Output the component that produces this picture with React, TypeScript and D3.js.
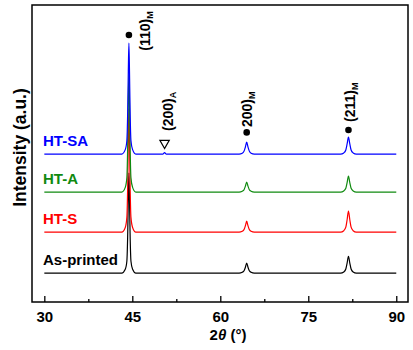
import React, { useEffect, useRef } from "react";
import * as d3 from "d3";

// shared 2θ grid (deg) for all patterns
const twoTheta = [30, 43.2, 43.8, 44.07, 44.22, 44.32, 44.42, 44.52, 44.62, 44.77, 45.05, 45.6, 50.2, 50.5, 50.8, 63.2, 63.75, 64.05, 64.28, 64.5, 64.72, 64.95, 65.25, 65.8, 80.5, 81.05, 81.4, 81.62, 81.85, 82.08, 82.3, 82.65, 83.2, 90];

// intensities above each baseline (a.u.)
const asPrinted = [0, 0, 13, 40, 135, 252, 337, 252, 135, 40, 13, 0, 0, 0, 0, 0, 3, 8, 20, 34, 20, 8, 3, 0, 0, 4, 14, 34, 57, 34, 14, 4, 0, 0];
const htS = [0, 0, 16, 50, 166, 310, 415, 310, 166, 50, 16, 0, 0, 0, 0, 0, 3, 9, 22, 37, 22, 9, 3, 0, 0, 5, 17, 42, 71, 42, 17, 5, 0, 0];
const htA = [0, 0, 16, 48, 162, 302, 404, 302, 162, 48, 16, 0, 0, 0, 0, 0, 3, 8, 20, 34, 20, 8, 3, 0, 0, 4, 13, 32, 54, 32, 13, 4, 0, 0];
const htSA = [0, 0, 15, 45, 150, 280, 374, 280, 150, 45, 15, 0, 0, 5, 0, 0, 3, 10, 24, 40, 24, 10, 3, 0, 0, 4, 14, 34, 57, 34, 14, 4, 0, 0];

const sampleNames = ["As-printed", "HT-S", "HT-A", "HT-SA"];
const sampleSeries = [asPrinted, htS, htA, htSA];
const sampleOffsets = [97, 235, 370, 498];
const sampleColors = ["#000000", "#ff0000", "#108a10", "#0000ff"];

// peak annotations
const peakHkl = ["(110)", "(200)", "200)", "(211)"];
const peakPhase = ["M", "A", "M", "M"];
const peakAngle = [44.42, 50.5, 64.5, 81.85];
const peakMarker = ["dot", "nabla", "dot", "dot"];
const markerLevel = [899, 535, 571, 579];
const textLevel = [846, 576, 589, 606];

const xTicks = [30, 45, 60, 75, 90];
const xMinorTicks = [37.5, 52.5, 67.5, 82.5];

const App: React.FC = () => {
	const ref = useRef<SVGSVGElement>(null);

	useEffect(() => {
		const W = 413;
		const H = 350;
		const left = 32, right = 408, top = 5, bottom = 302;
		const font = "'Liberation Sans', Arial, sans-serif";

		const svg = d3.select(ref.current);
		svg.selectAll("*").remove();
		svg.attr("width", W).attr("height", H);

		const x = d3.scaleLinear().domain([27.9, 92]).range([left, right]);
		const y = d3.scaleLinear().domain([0, 1000]).range([bottom, top]);

		// patterns
		const line = d3
			.line<number>()
			.x((_, i) => x(twoTheta[i]))
			.curve(d3.curveMonotoneX);

		sampleSeries.forEach((s, k) => {
			svg.append("path")
				.attr("d", line.y((d) => y(d + sampleOffsets[k]))(s))
				.attr("fill", "none")
				.attr("stroke", sampleColors[k])
				.attr("stroke-width", 1.2);

			svg.append("text")
				.attr("x", 43)
				.attr("y", y(sampleOffsets[k]) - 8)
				.attr("fill", sampleColors[k])
				.style("font-family", font)
				.style("font-weight", "bold")
				.style("font-size", "15px")
				.text(sampleNames[k]);
		});

		// frame
		svg.append("rect")
			.attr("x", left)
			.attr("y", top)
			.attr("width", right - left)
			.attr("height", bottom - top)
			.attr("fill", "none")
			.attr("stroke", "#000")
			.attr("stroke-width", 1.5);

		// x axis, ticks pointing in
		const ax = svg.append("g")
			.attr("transform", `translate(0,${bottom})`)
			.call(d3.axisBottom(x).tickValues(xTicks).tickSizeInner(-6).tickSizeOuter(0).tickPadding(9));
		ax.select(".domain").remove();
		ax.selectAll("line").attr("stroke-width", 1.3);
		ax.selectAll("text")
			.style("font-family", font)
			.style("font-weight", "bold")
			.style("font-size", "15px")
			.attr("fill", "#000");

		const minor = svg.append("g")
			.attr("transform", `translate(0,${bottom})`)
			.call(d3.axisBottom(x).tickValues(xMinorTicks).tickSizeInner(-3).tickSizeOuter(0).tickFormat(() => ""));
		minor.select(".domain").remove();
		minor.selectAll("line").attr("stroke-width", 1.3);

		// axis titles
		const xt = svg.append("text")
			.attr("x", 228)
			.attr("y", 340)
			.attr("text-anchor", "middle")
			.style("font-family", font)
			.style("font-weight", "bold")
			.style("font-size", "15px");
		xt.append("tspan").text("2");
		xt.append("tspan").style("font-style", "italic").text("θ");
		xt.append("tspan").text(" (°)");

		svg.append("text")
			.attr("transform", `translate(25.5,147.5) rotate(-90)`)
			.attr("text-anchor", "middle")
			.style("font-family", font)
			.style("font-weight", "bold")
			.style("font-size", "17.5px")
			.text("Intensity (a.u.)");

		// peak markers and labels
		const textShift = [21, 8.5, 5.3, 6.5];
		peakHkl.forEach((hkl, i) => {
			const px = x(peakAngle[i]);
			if (peakMarker[i] === "dot") {
				svg.append("circle")
					.attr("cx", px)
					.attr("cy", y(markerLevel[i]))
					.attr("r", 3.3)
					.attr("fill", "#000");
			} else {
				svg.append("path")
					.attr("d", d3.symbol(d3.symbolTriangle, 38)())
					.attr("transform", `translate(${px},${y(markerLevel[i])}) rotate(180)`)
					.attr("fill", "none")
					.attr("stroke", "#000")
					.attr("stroke-width", 1.2);
			}
			const t = svg.append("text")
				.attr("transform", `translate(${px + textShift[i]},${y(textLevel[i])}) rotate(-90)`)
				.style("font-family", font)
				.style("font-weight", "bold")
				.style("font-size", "14px");
			t.append("tspan").text(hkl);
			t.append("tspan").attr("dy", 3).style("font-size", "9px").text(peakPhase[i]);
		});
	}, []);

	return <svg ref={ref} style={{ position: "absolute", left: 0, top: 0 }} />;
};

export default App;
